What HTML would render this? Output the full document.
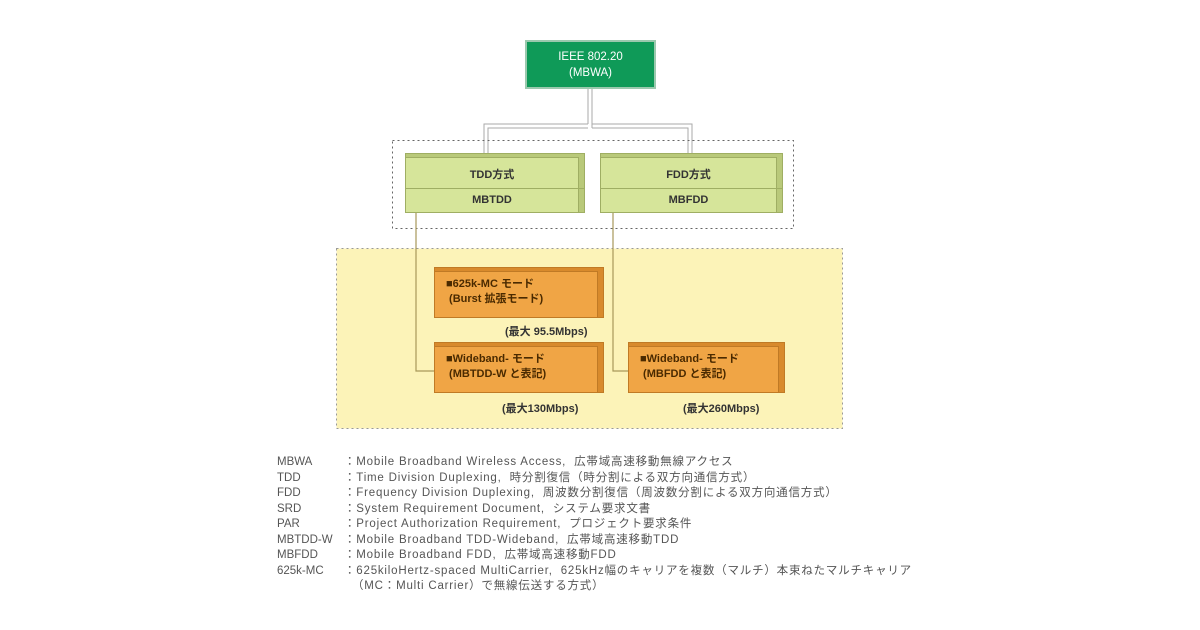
<!DOCTYPE html>
<html><head><meta charset="utf-8"><style>
body{margin:0;width:1200px;height:630px;background:#fff;position:relative;overflow:hidden;font-family:"Liberation Sans","Noto Sans CJK JP",sans-serif}
.a{position:absolute;box-sizing:border-box}
.g{background:#d6e59a;border:1px solid #9fae63}
.gs{background:#b9c97a;border:1px solid #9fae63}
.o{background:#f0a545;border:1px solid #c07a25}
.os{background:#d88a2c;border:1px solid #c07a25}
.t{font-size:11px;font-weight:bold;color:#333;text-align:center}
.leg{position:absolute;left:277px;font-size:11.5px;color:#555;line-height:15.5px;white-space:pre}
</style></head><body>
<div class="a" style="left:525px;top:40px;width:131px;height:49px;background:#0f9a58;border:2px solid #9bc9ae;color:#fff;font-size:11.5px;text-align:center;line-height:16px;padding-top:7px">IEEE 802.20<br>(MBWA)</div>
<svg class="a" style="left:0;top:0" width="1200" height="630">
<g stroke="#aaa" stroke-width="1" fill="none">
<line x1="588" y1="89" x2="588" y2="124"/><line x1="592" y1="89" x2="592" y2="128"/>
<polyline points="588,124 484,124 484,158"/><polyline points="592,124 692,124 692,158"/>
<polyline points="588,128 488,128 488,158"/><polyline points="592,128 688,128 688,158"/>
</g>
<rect x="392.5" y="140.5" width="401" height="88" fill="none" stroke="#666" stroke-dasharray="2,3"/>
<rect x="336.5" y="248.5" width="506" height="180" fill="#fcf3b8" stroke="#999" stroke-dasharray="2,3"/>
<g stroke="#a8985a" stroke-width="1.2" fill="none">
<polyline points="416,213 416,371 436,371"/>
<polyline points="613,213 613,371 630,371"/>
</g>
</svg>
<div class="a gs" style="left:405px;top:153px;width:180px;height:60px"></div>
<div class="a g" style="left:405px;top:157px;width:174px;height:56px"></div>
<div class="a" style="left:405px;top:188px;width:179px;height:1px;background:#9fae63"></div>
<div class="a t" style="left:405px;top:166px;width:174px">TDD方式</div>
<div class="a t" style="left:405px;top:194px;width:174px">MBTDD</div>
<div class="a gs" style="left:600px;top:153px;width:183px;height:60px"></div>
<div class="a g" style="left:600px;top:157px;width:177px;height:56px"></div>
<div class="a" style="left:600px;top:188px;width:182px;height:1px;background:#9fae63"></div>
<div class="a t" style="left:600px;top:166px;width:177px">FDD方式</div>
<div class="a t" style="left:600px;top:194px;width:177px">MBFDD</div>
<div class="a os" style="left:434px;top:267px;width:170px;height:51px"></div>
<div class="a o" style="left:434px;top:271px;width:164px;height:47px"></div>
<div class="a t" style="left:446px;top:277px;text-align:left;line-height:15px;color:#4a2a00">■625k-MC モード<br>&nbsp;(Burst 拡張モード)</div>
<div class="a t" style="left:505px;top:323px;text-align:left;color:#333">(最大 95.5Mbps)</div>
<div class="a os" style="left:434px;top:342px;width:170px;height:51px"></div>
<div class="a o" style="left:434px;top:346px;width:164px;height:47px"></div>
<div class="a t" style="left:446px;top:352px;text-align:left;line-height:15px;color:#4a2a00">■Wideband- モード<br>&nbsp;(MBTDD-W と表記)</div>
<div class="a t" style="left:502px;top:400px;text-align:left">(最大130Mbps)</div>
<div class="a os" style="left:628px;top:342px;width:157px;height:51px"></div>
<div class="a o" style="left:628px;top:346px;width:151px;height:47px"></div>
<div class="a t" style="left:640px;top:352px;text-align:left;line-height:15px;color:#4a2a00">■Wideband- モード<br>&nbsp;(MBFDD と表記)</div>
<div class="a t" style="left:683px;top:400px;text-align:left">(最大260Mbps)</div>
<div class="leg" style="top:455px">MBWA
TDD
FDD
SRD
PAR
MBTDD-W
MBFDD
625k-MC</div>
<div class="leg" style="top:455px;left:344px;letter-spacing:0.8px">：Mobile Broadband Wireless Access,  広帯域高速移動無線アクセス
：Time Division Duplexing,  時分割復信（時分割による双方向通信方式）
：Frequency Division Duplexing,  周波数分割復信（周波数分割による双方向通信方式）
：System Requirement Document,  システム要求文書
：Project Authorization Requirement,  プロジェクト要求条件
：Mobile Broadband TDD-Wideband,  広帯域高速移動TDD
：Mobile Broadband FDD,  広帯域高速移動FDD
：625kiloHertz-spaced MultiCarrier,  625kHz幅のキャリアを複数（マルチ）本束ねたマルチキャリア
  （MC：Multi Carrier）で無線伝送する方式）</div>
</body></html>
